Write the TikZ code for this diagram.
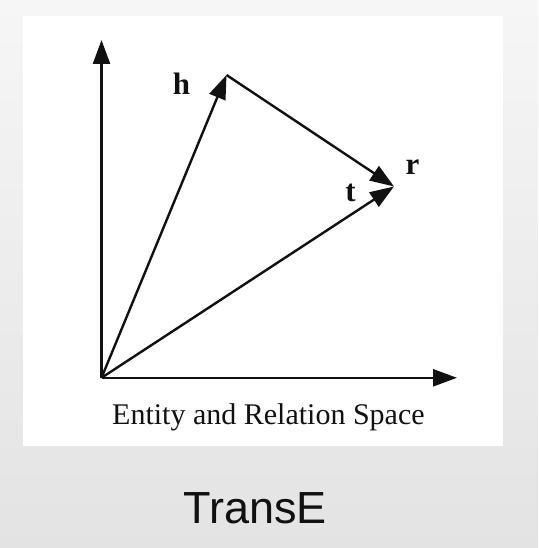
\documentclass[tikz,border=0pt]{standalone}
\usepackage{fontspec}
\setmainfont{Liberation Serif}
\newfontfamily\titlefont{Liberation Sans}
\usetikzlibrary{arrows.meta}
\definecolor{bgtop}{HTML}{F6F6F6}
\definecolor{bgbot}{HTML}{E3E3E3}
\definecolor{ink}{HTML}{111111}
\tikzset{
  vec/.style={draw=ink, line width=2.4pt, -{Triangle[length=24pt,width=17pt]}},
  lbl/.style={font=\fontsize{31}{31}\selectfont\bfseries, text=ink, anchor=base, inner sep=0pt},
  caption/.style={font=\fontsize{30}{30}\selectfont, text=ink, anchor=base, inner sep=0pt},
  title/.style={font=\titlefont\fontsize{45}{45}\selectfont, text=ink, anchor=base, inner sep=0pt}
}
\begin{document}
\begin{tikzpicture}[x=1pt,y=-1pt]
  \useasboundingbox (0,0) rectangle (538,548);
  \shade[top color=bgtop, bottom color=bgbot] (0,0) rectangle (538,548);
  \fill[white] (23,15.7) rectangle (503,445.7);
  \coordinate (O) at (101.5,377.8);
  \coordinate (Y) at (101.5,40);
  \coordinate (X) at (457,377.8);
  \coordinate (H) at (226.5,75);
  \coordinate (R) at (394,186.5);
  \draw[vec] (O) -- (Y);
  \draw[vec] (O) -- (X);
  \draw[vec] (O) -- (H);
  \draw[vec] (H) -- (R);
  \draw[vec] (O) -- (R);
  \node[lbl] (hl) at (181.4,95) {h};
  \node[lbl] (rl) at (412.5,175) {r};
  \node[lbl] (tl) at (350.5,201.7) {t};
  \node[caption] (cap) at (268.4,424.3) {Entity and Relation Space};
  \node[title] (ttl) at (255.3,523) {TransE};
\end{tikzpicture}
\end{document}
